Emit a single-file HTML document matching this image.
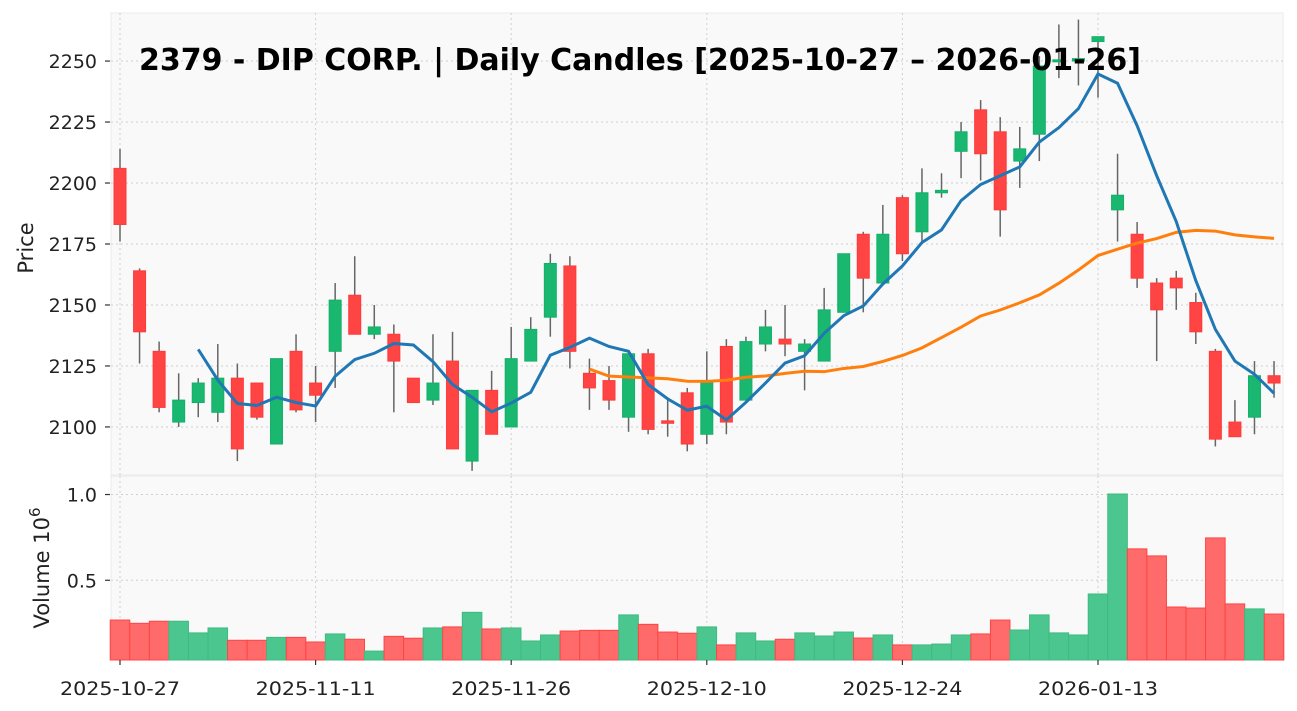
<!DOCTYPE html>
<html><head><meta charset="utf-8"><style>
html,body{margin:0;padding:0;background:#fff;}
svg{display:block;font-family:"DejaVu Sans","Liberation Sans",sans-serif;}
</style></head><body>
<svg id="chart" width="1297" height="711" viewBox="0 0 1297 711" xmlns="http://www.w3.org/2000/svg">
<rect x="111" y="13" width="1172" height="462" fill="#f9f9f9" stroke="#ebebeb"/>
<rect x="111" y="476" width="1172" height="184" fill="#f9f9f9" stroke="#ebebeb"/>
<g id="grid"></g>
<g id="vol"></g>
<g id="candles"></g>
<g id="ma"></g>
<g id="axes"></g>
<text x="139" y="70" font-size="30" font-weight="bold" fill="#000" textLength="1002" lengthAdjust="spacingAndGlyphs">2379 - DIP CORP. | Daily Candles [2025-10-27 – 2026-01-26]</text>
<text transform="translate(33,248) rotate(-90)" text-anchor="middle" font-size="21" fill="#222">Price</text>
<text transform="translate(49,568) rotate(-90)" text-anchor="middle" font-size="21" fill="#222">Volume  10<tspan dy="-9" font-size="15">6</tspan></text>
</svg>
<script>
const opens  = [2206,2164,2131,2102,2110,2106,2120,2118,2093,2131,2118,2131,2154,2138,2138,2120,2111,2127,2086,2115,2100,2127,2145,2166,2122,2119,2104,2130,2102.5,2114,2097,2133,2111,2134,2136,2131,2127,2147,2179,2159,2194,2180,2196,2213,2230,2221,2209,2220,2250,2250,2258,2189,2179,2159,2161,2151,2131,2102,2104,2121];
const highs  = [2214,2165,2135,2122,2120,2134,2126,2118,2128,2138,2125,2159,2170,2150,2142,2120,2138,2139,2115,2123,2141,2145,2171,2170,2128,2125,2130,2132,2111,2116,2131,2136,2137,2148,2150,2136,2157,2171,2180,2191,2195,2206,2204,2225,2234,2227,2223,2252,2265,2267,2260,2212,2184,2161,2164,2155,2132,2111,2127,2127];
const lows   = [2176,2126,2106,2100,2104,2102,2086,2103,2093,2106,2102,2116,2138,2136,2106,2110,2109,2091,2082,2097,2100,2127,2137,2124,2107,2107,2098,2097,2096,2090,2093,2097,2111,2131,2129,2115,2127,2147,2147,2159,2168,2175,2194,2202,2201,2178,2198,2209,2243,2240,2235,2176,2157,2127,2148,2134,2092,2096,2097,2112];
const closes = [2183,2139,2108,2111,2118,2120,2091,2104,2128,2107,2113,2152,2138,2141,2127,2110,2118,2091,2115,2097,2128,2140,2167,2131,2116,2111,2130,2099,2101.5,2093,2119,2102,2135,2141,2134,2134,2148,2171,2161,2179,2171,2196,2197,2221,2212,2189,2214,2248,2250.5,2251,2260,2195,2161,2148,2157,2139,2095,2096,2121,2118];
const volumes = [0.268,0.249,0.261,0.261,0.193,0.222,0.150,0.150,0.167,0.167,0.140,0.187,0.156,0.087,0.173,0.162,0.222,0.228,0.313,0.216,0.222,0.146,0.181,0.204,0.208,0.208,0.298,0.243,0.198,0.191,0.228,0.123,0.193,0.146,0.156,0.193,0.175,0.198,0.163,0.181,0.123,0.123,0.128,0.181,0.187,0.268,0.210,0.298,0.193,0.181,0.420,1.003,0.683,0.642,0.344,0.338,0.747,0.362,0.333,0.303];
const xTickIdx = [0,10,20,30,40,50];
const xTickLabels = ["2025-10-27","2025-11-11","2025-11-26","2025-12-10","2025-12-24","2026-01-13"];
const priceTicks = [2100,2125,2150,2175,2200,2225,2250];
const volTicks = [0.5,1.0];
const volTickLabels = ["0.5","1.0"];

const NS="http://www.w3.org/2000/svg";
const X0=120, DX=19.56;
const xs=i=>X0+DX*i;
const PT=13,PB=475,PMAX=2269.7,PMIN=2080.3;
const py=v=>PT+(PMAX-v)/(PMAX-PMIN)*(PB-PT);
const VT=476,VB=660,VMAX=1.108,VMIN=0.035;
const vy=v=>VT+(VMAX-v)/(VMAX-VMIN)*(VB-VT);
function mk(tag,attrs,parent){const e=document.createElementNS(NS,tag);for(const k in attrs)e.setAttribute(k,attrs[k]);parent.appendChild(e);return e;}
const grid=document.getElementById('grid'),axes=document.getElementById('axes');
xTickIdx.forEach((idx,k)=>{
  const x=xs(idx);
  const g1=mk('line',{x1:x,x2:x,y1:PT,y2:PB,stroke:'#d0d0d0','stroke-dasharray':'2,3'},grid);
  
  
  const g2=mk('line',{x1:x,x2:x,y1:VT,y2:VB,stroke:'#d0d0d0','stroke-dasharray':'2,3'},grid);
  
  
  const t=mk('line',{x1:x,x2:x,y1:VB,y2:VB+5,stroke:'#333','stroke-width':1.2},axes);
  
  
  const l=mk('text',{x:x,y:VB+35,'text-anchor':'middle','font-size':19,fill:'#222',textLength:120,lengthAdjust:'spacingAndGlyphs'},axes);
  l.textContent=xTickLabels[k];
  
  
});
priceTicks.forEach(v=>{
  const y=py(v);
  const g=mk('line',{x1:111,x2:1283,y1:y,y2:y,stroke:'#d0d0d0','stroke-dasharray':'2,3'},grid);
  
  
  const t=mk('line',{x1:105,x2:110,y1:y,y2:y,stroke:'#333','stroke-width':1.2},axes);
  
  
  const l=mk('text',{x:97,y:y+7,'text-anchor':'end','font-size':19,fill:'#222'},axes);
  l.textContent=v;
  
  
});
volTicks.forEach((v,k)=>{
  const y=vy(v);
  const g=mk('line',{x1:111,x2:1283,y1:y,y2:y,stroke:'#d0d0d0','stroke-dasharray':'2,3'},grid);
  
  
  const t=mk('line',{x1:105,x2:110,y1:y,y2:y,stroke:'#333','stroke-width':1.2},axes);
  
  
  const l=mk('text',{x:97,y:y+7,'text-anchor':'end','font-size':19,fill:'#222'},axes);
  l.textContent=volTickLabels[k];
  
  
});
const vol=document.getElementById('vol'),cg=document.getElementById('candles');
closes.forEach((c,i)=>{
  const up=c>=opens[i];
  const x=xs(i);
  const vt=vy(volumes[i]);
  const b=mk('rect',{x:x-DX/2,y:vt,width:DX,height:VB-vt,fill:up?'#4bc68f':'#ff6b6b',stroke:up?'#3dbb80':'#ff4444','stroke-width':1},vol);
  
  
  const w=mk('line',{x1:x,x2:x,y1:py(highs[i]),y2:py(lows[i]),stroke:'#666','stroke-width':1.5},cg);
  
  
  const top=py(Math.max(c,opens[i])),bot=py(Math.min(c,opens[i]));
  const r=mk('rect',{x:x-6,y:top,width:12,height:Math.max(bot-top,2),fill:up?'#19b76f':'#ff4444',stroke:up?'#14b06a':'#ff3a3a','stroke-width':1},cg);
  
  
});
function sma(n){const out=[];for(let i=n-1;i<closes.length;i++){let s=0;for(let j=i-n+1;j<=i;j++)s+=closes[j];out.push([i,s/n]);}return out;}
const ma=document.getElementById('ma');
const m25=mk('polyline',{points:sma(25).map(p=>xs(p[0])+','+py(p[1])).join(' '),fill:'none',stroke:'#ff7f0e','stroke-width':3},ma);


const m5=mk('polyline',{points:sma(5).map(p=>xs(p[0])+','+py(p[1])).join(' '),fill:'none',stroke:'#1f77b4','stroke-width':3},ma);


</script>
</body></html>
